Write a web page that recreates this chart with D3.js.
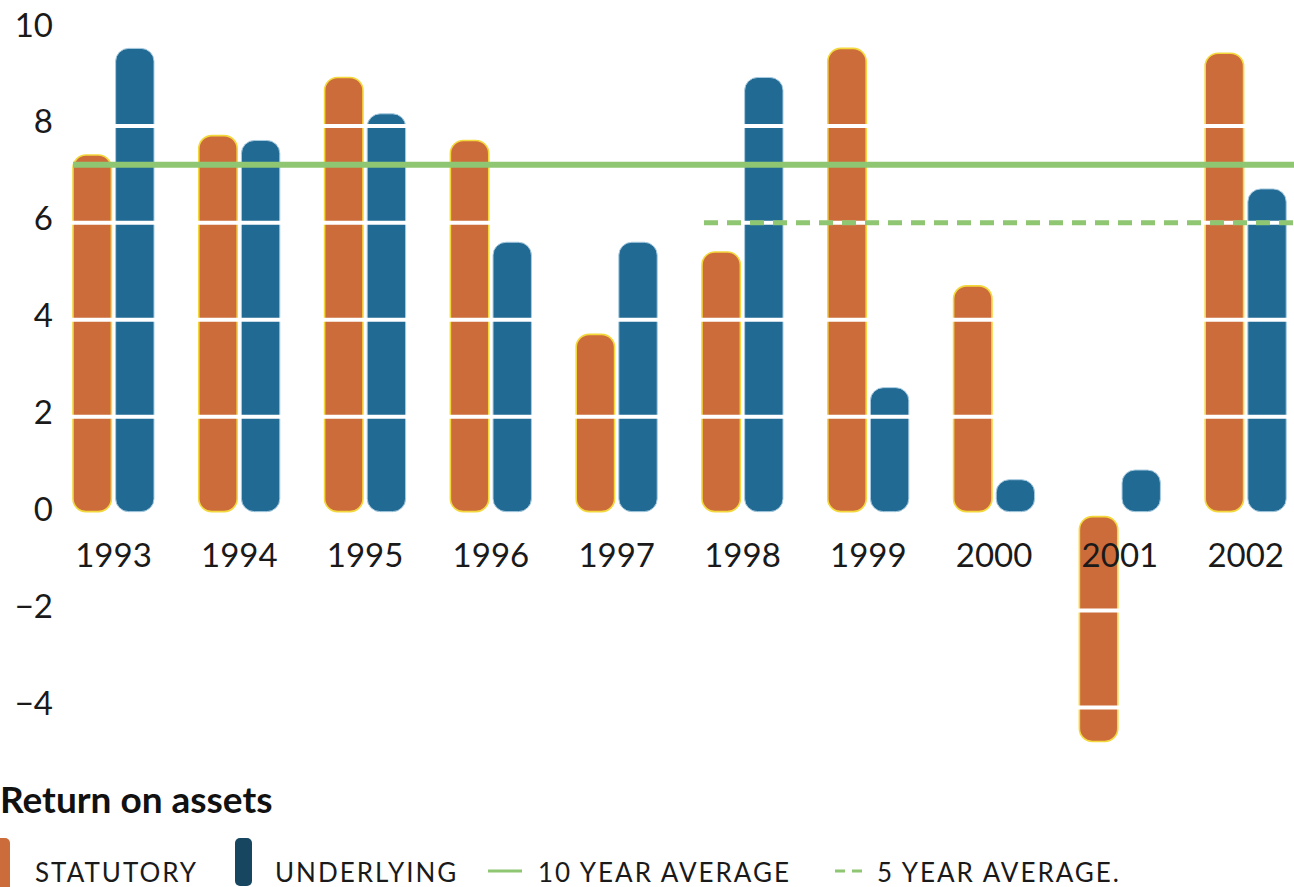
<!DOCTYPE html>
<html>
<head>
<meta charset="utf-8">
<script src="https://cdn.jsdelivr.net/npm/d3@7"></script>
<style>
body { margin: 0; background: #fff; }
svg { display: block; }
</style>
</head>
<body>
<svg id="chart" width="1294" height="887"></svg>
<script>
const years = ["1993","1994","1995","1996","1997","1998","1999","2000","2001","2002"]
const statutory = [7.4, 7.8, 9.0, 7.7, 3.7, 5.4, 9.6, 4.7, -4.7, 9.5]
const underlying = [9.6, 7.7, 8.25, 5.6, 5.6, 9.0, 2.6, 0.7, 0.9, 6.7]
const yTicks = [-4, -2, 0, 2, 4, 6, 8, 10]
const avg10 = 7.2
const avg5 = 6.0
const avg5Start = "1998"

const colors = {statutory: "#cc6c3b", underlying: "#216a94"}

const svg = d3.select("#chart")
const font = "Lato, 'Open Sans', sans-serif"

const x = d3.scaleBand()
    .domain(years)
    .range([50.6, 1308.6])
    .paddingInner(0.356)
    .paddingOuter(0.178)

const xs = d3.scaleBand()
    .domain(["statutory", "underlying"])
    .range([0, x.bandwidth()])
    .paddingInner(0.1)

const y = d3.scaleLinear()
    .domain([-4, 10])
    .range([707.5, 29])

// one record per bar
const bars = []
years.forEach(function(yr, i){
    bars.push({year: yr, key: "statutory", value: statutory[i]})
    bars.push({year: yr, key: "underlying", value: underlying[i]})
})

svg.append("g")
    .selectAll("rect")
    .data(bars)
    .join("rect")
    .attr("x", d => x(d.year) + xs(d.key))
    .attr("width", xs.bandwidth())
    .attr("y", d => d.value >= 0 ? y(d.value) : y(0) + 3)
    .attr("height", d => d.value >= 0 ? y(0) - 2 - y(d.value) : y(d.value) - y(0) - 3)
    .attr("rx", 13)
    .attr("fill", d => colors[d.key])
    .attr("stroke", d => d.key == "statutory" ? "#f3d83c" : "#a8cbe0")
    .attr("stroke-width", d => d.key == "statutory" ? 1.6 : 1)

// white gaps through the bars at each tick
const xLeft = x(years[0])
svg.append("g")
    .selectAll("line")
    .data(yTicks.filter(t => t != 0 && t != 10))
    .join("line")
    .attr("x1", xLeft - 5)
    .attr("x2", 1294)
    .attr("y1", d => y(d))
    .attr("y2", d => y(d))
    .attr("stroke", "#fff")
    .attr("stroke-width", 4)

// averages
svg.append("line")
    .attr("x1", xLeft)
    .attr("x2", 1294)
    .attr("y1", y(avg10))
    .attr("y2", y(avg10))
    .attr("stroke", "#8fc672")
    .attr("stroke-width", 6)

svg.append("line")
    .attr("x1", x(avg5Start) + 2)
    .attr("x2", 1294)
    .attr("y1", y(avg5))
    .attr("y2", y(avg5))
    .attr("stroke", "#8fc672")
    .attr("stroke-width", 5)
    .attr("stroke-dasharray", "14 9")

// y labels
svg.append("g")
    .selectAll("text")
    .data(yTicks)
    .join("text")
    .attr("x", 53)
    .attr("y", d => y(d) - 4)
    .attr("dy", "0.35em")
    .attr("text-anchor", "end")
    .attr("font-family", font)
    .attr("font-size", 33)
    .attr("fill", "#1a1a1a")
    .text(d => d < 0 ? "\u2212" + Math.abs(d) : d)

// x labels
svg.append("g")
    .selectAll("text")
    .data(years)
    .join("text")
    .attr("x", d => x(d) + x.bandwidth() / 2)
    .attr("y", 567)
    .attr("text-anchor", "middle")
    .attr("font-family", font)
    .attr("font-size", 33)
    .attr("fill", "#1a1a1a")
    .text(d => d)

// title
svg.append("text")
    .attr("x", 0)
    .attr("y", 813)
    .attr("font-family", font)
    .attr("font-weight", "bold")
    .attr("font-size", 37)
    .attr("fill", "#111")
    .text("Return on assets")

// legend
const lg = svg.append("g")
lg.append("rect").attr("x", -6).attr("y", 838).attr("width", 16).attr("height", 60).attr("rx", 5)
    .attr("fill", colors.statutory)
lg.append("rect").attr("x", 235).attr("y", 838).attr("width", 17).attr("height", 48).attr("rx", 5)
    .attr("fill", "#174660")
lg.append("line").attr("x1", 488).attr("x2", 522).attr("y1", 871).attr("y2", 871)
    .attr("stroke", "#8fc672").attr("stroke-width", 3)
lg.append("line").attr("x1", 835).attr("x2", 868).attr("y1", 871).attr("y2", 871)
    .attr("stroke", "#8fc672").attr("stroke-width", 3).attr("stroke-dasharray", "10 7")

const legendLabels = [
    {text: "STATUTORY", x: 35},
    {text: "UNDERLYING", x: 275},
    {text: "10 YEAR AVERAGE", x: 538},
    {text: "5 YEAR AVERAGE.", x: 877}
]
lg.selectAll("text")
    .data(legendLabels)
    .join("text")
    .attr("x", d => d.x)
    .attr("y", 882)
    .attr("font-family", font)
    .attr("font-size", 26)
    .attr("letter-spacing", 2)
    .attr("fill", "#1a1a1a")
    .text(d => d.text)
</script>
</body>
</html>
